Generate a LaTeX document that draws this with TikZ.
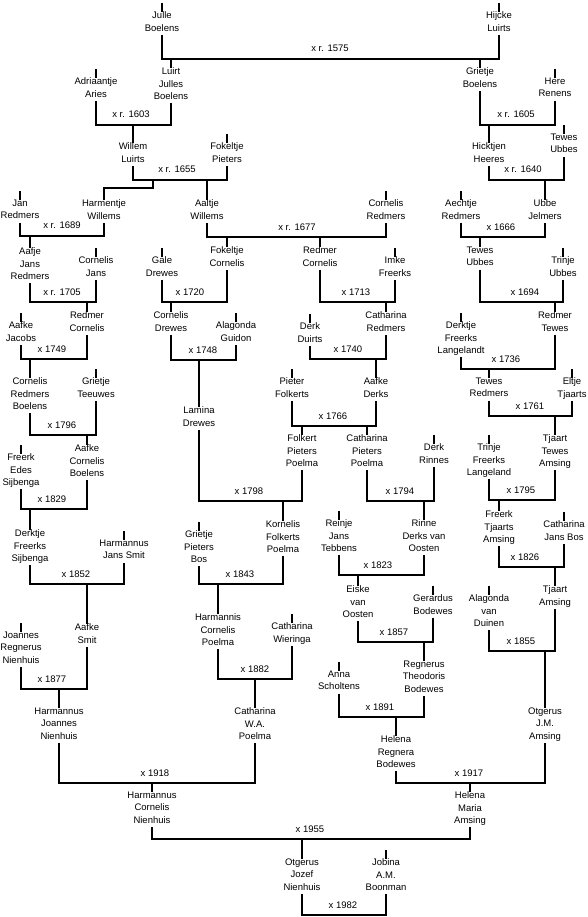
\documentclass[tikz,border=0pt]{standalone}
\usepackage{fontspec}
\setmainfont{Liberation Sans}
\begin{document}
\begin{tikzpicture}[x=1pt,y=-1pt,
  conn/.style={line width=2pt},
  person/.style={align=center,inner sep=0pt,font=\fontsize{9.5}{12.3}\selectfont,
    execute at begin node=\strut,execute at end node=\strut},
  lbl/.style={inner sep=0pt,font=\fontsize{9.5}{12.3}\selectfont,anchor=base}]
\fill[white] (0,0) rectangle (588,917);
\useasboundingbox (0,0) rectangle (588,917);
\newcommand\per[4]{\node[person,anchor=north] (#1) at (#2,#3-5.2) {#4};}
\newcommand\tk[1]{\draw[conn] (#1.north) -- ++(0,-9);}
\newcommand\wed[6]{\coordinate (#1) at (#5,#4);
  \draw[conn] (#2.south) |- (#1) -| (#3.south);
  \node[lbl] (#1l) at (#5,#4-7) {#6};}
\newcommand\kid[2]{\draw[conn] (#2.north |- #1) -- (#2.north);}
% persons
\per{julle}{162}{17}{Julle\\Boelens}
\per{hijcke}{499}{17}{Hijcke\\Luirts}
\per{luirt}{171}{73}{Luirt\\Julles\\Boelens}
\per{grietjeB}{480}{73}{Grietje\\Boelens}
\per{adriaantje}{96}{83}{Adriaantje\\Aries}
\per{here}{555}{83}{Here\\Renens}
\per{willem}{133}{148}{Willem\\Luirts}
\per{fokeltjeP}{227}{148}{Fokeltje\\Pieters}
\per{hicktjen}{489}{148}{Hicktjen\\Heeres}
\per{tewesUa}{564}{139}{Tewes\\Ubbes}
\per{jan}{20}{205}{Jan\\Redmers}
\per{harmentje}{104}{205}{Harmentje\\Willems}
\per{aaltje}{207}{205}{Aaltje\\Willems}
\per{cornelisR}{386}{205}{Cornelis\\Redmers}
\per{aechtje}{461}{205}{Aechtje\\Redmers}
\per{ubbe}{545}{205}{Ubbe\\Jelmers}
\per{aafje}{30}{253}{Aafje\\Jans\\Redmers}
\per{cornelisJ}{96}{262}{Cornelis\\Jans}
\per{gale}{162}{262}{Gale\\Drewes}
\per{fokeltjeC}{227}{252}{Fokeltje\\Cornelis}
\per{redmerCa}{320}{252}{Redmer\\Cornelis}
\per{imke}{395}{262}{Imke\\Freerks}
\per{tewesUb}{480}{252}{Tewes\\Ubbes}
\per{trinjeU}{563}{262}{Trinje\\Ubbes}
\per{aafkeJ}{21}{327}{Aafke\\Jacobs}
\per{redmerCb}{87}{317}{Redmer\\Cornelis}
\per{cornelisD}{171}{317}{Cornelis\\Drewes}
\per{alagondaG}{236}{327}{Alagonda\\Guidon}
\per{derkD}{310}{328}{Derk\\Duirts}
\per{catharinaR}{386}{317}{Catharina\\Redmers}
\per{derktjeL}{461}{327}{Derktje\\Freerks\\Langelandt}
\per{redmerT}{555}{317}{Redmer\\Tewes}
\per{cornelisRB}{30}{383}{Cornelis\\Redmers\\Boelens}
\per{grietjeT}{96}{383}{Grietje\\Teeuwes}
\per{lamina}{199}{412}{Lamina\\Drewes}
\per{pieter}{292}{383}{Pieter\\Folkerts}
\per{aafkeD}{376}{383}{Aafke\\Derks}
\per{tewesR}{489}{383}{Tewes\\Redmers}
\per{eltje}{572}{383}{Eltje\\Tjaarts}
\per{folkert}{302}{440}{Folkert\\Pieters\\Poelma}
\per{catharinaP}{367}{440}{Catharina\\Pieters\\Poelma}
\per{derkR}{434}{449}{Derk\\Rinnes}
\per{tjaartT}{555}{440}{Tjaart\\Tewes\\Amsing}
\per{trinjeF}{489}{449}{Trinje\\Freerks\\Langeland}
\per{freerkE}{21}{459}{Freerk\\Edes\\Sijbenga}
\per{aafkeC}{87}{450}{Aafke\\Cornelis\\Boelens}
\per{kornelis}{283}{526}{Kornelis\\Folkerts\\Poelma}
\per{reinje}{339}{525}{Reinje\\Jans\\Tebbens}
\per{rinne}{424}{525}{Rinne\\Derks van\\Oosten}
\per{freerkT}{499}{516}{Freerk\\Tjaarts\\Amsing}
\per{catharinaJ}{564}{526}{Catharina\\Jans Bos}
\per{derktjeS}{30}{535}{Derktje\\Freerks\\Sijbenga}
\per{harmannusJS}{124}{545}{Harmannus\\Jans Smit}
\per{grietjeP}{199}{536}{Grietje\\Pieters\\Bos}
\per{eiske}{358}{591}{Eiske\\van\\Oosten}
\per{gerardus}{433}{600}{Gerardus\\Bodewes}
\per{tjaartA}{555}{591}{Tjaart\\Amsing}
\per{alagondaD}{489}{600}{Alagonda\\van\\Duinen}
\per{aafkeS}{87}{629}{Aafke\\Smit}
\per{joannes}{21}{637}{Joannes\\Regnerus\\Nienhuis}
\per{harmannis}{218}{619}{Harmannis\\Cornelis\\Poelma}
\per{catharinaW}{292}{628}{Catharina\\Wieringa}
\per{regnerus}{424}{666}{Regnerus\\Theodoris\\Bodewes}
\per{anna}{339}{676}{Anna\\Scholtens}
\per{harmannusJN}{59}{713}{Harmannus\\Joannes\\Nienhuis}
\per{catharinaWA}{255}{713}{Catharina\\W.A.\\Poelma}
\per{helenaR}{396}{741}{Helena\\Regnera\\Bodewes}
\per{otgerusA}{545}{713}{Otgerus\\J.M.\\Amsing}
\per{harmannusCN}{152}{797}{Harmannus\\Cornelis\\Nienhuis}
\per{helenaM}{470}{797}{Helena\\Maria\\Amsing}
\per{otgerusJ}{302}{864}{Otgerus\\Jozef\\Nienhuis}
\per{jobina}{386}{864}{Jobina\\A.M.\\Boonman}
% ticks
\foreach \n in {julle,hijcke,adriaantje,here,fokeltjeP,tewesUa,jan,cornelisR,aechtje,
  cornelisJ,gale,imke,trinjeU,aafkeJ,alagondaG,derkD,derktjeL,grietjeT,pieter,eltje,
  derkR,trinjeF,freerkE,reinje,catharinaJ,harmannusJS,grietjeP,gerardus,alagondaD,
  joannes,catharinaW,anna,jobina}{\tk{\n}}
% marriages
\wed{m1575}{julle}{hijcke}{59}{330}{x r. 1575}
\kid{m1575}{luirt}\kid{m1575}{grietjeB}
\wed{m1603}{adriaantje}{luirt}{125}{131}{x r. 1603}
\kid{m1603}{willem}
\wed{m1605}{grietjeB}{here}{125}{516}{x r. 1605}
\kid{m1605}{hicktjen}
\wed{m1655}{willem}{fokeltjeP}{180}{177}{x r. 1655}
\coordinate (hk) at (153,188);
\draw[conn] (hk |- m1655) -- (hk) -| (harmentje.north);
\kid{m1655}{aaltje}
\wed{m1640}{hicktjen}{tewesUa}{180}{523}{x r. 1640}
\kid{m1640}{ubbe}
\wed{m1689}{jan}{harmentje}{236}{62}{x r. 1689}
\kid{m1689}{aafje}
\wed{m1677}{aaltje}{cornelisR}{237}{297}{x r. 1677}
\kid{m1677}{fokeltjeC}\kid{m1677}{redmerCa}
\wed{m1666}{aechtje}{ubbe}{237}{501}{x 1666}
\kid{m1666}{tewesUb}
\wed{m1705}{aafje}{cornelisJ}{302}{62}{x r. 1705}
\kid{m1705}{redmerCb}
\wed{m1720}{gale}{fokeltjeC}{302}{190}{x 1720}
\kid{m1720}{cornelisD}
\wed{m1713}{redmerCa}{imke}{302}{356}{x 1713}
\kid{m1713}{catharinaR}
\wed{m1694}{tewesUb}{trinjeU}{302}{525}{x 1694}
\kid{m1694}{redmerT}
\wed{m1749}{aafkeJ}{redmerCb}{359}{52}{x 1749}
\kid{m1749}{cornelisRB}
\wed{m1748}{cornelisD}{alagondaG}{360}{203}{x 1748}
\kid{m1748}{lamina}
\wed{m1740}{derkD}{catharinaR}{359}{348}{x 1740}
\kid{m1740}{aafkeD}
\wed{m1736}{derktjeL}{redmerT}{369}{506}{x 1736}
\kid{m1736}{tewesR}
\wed{m1796}{cornelisRB}{grietjeT}{435}{62}{x 1796}
\kid{m1796}{aafkeC}
\wed{m1766}{pieter}{aafkeD}{426}{333}{x 1766}
\kid{m1766}{folkert}\kid{m1766}{catharinaP}
\wed{m1761}{tewesR}{eltje}{416}{530}{x 1761}
\kid{m1761}{tjaartT}
\wed{m1829}{freerkE}{aafkeC}{509}{52}{x 1829}
\kid{m1829}{derktjeS}
\wed{m1798}{lamina}{folkert}{501}{249}{x 1798}
\kid{m1798}{kornelis}
\wed{m1794}{catharinaP}{derkR}{501}{400}{x 1794}
\kid{m1794}{rinne}
\wed{m1795}{trinjeF}{tjaartT}{500}{521}{x 1795}
\kid{m1795}{freerkT}
\wed{m1852}{derktjeS}{harmannusJS}{584}{76}{x 1852}
\kid{m1852}{aafkeS}
\wed{m1843}{grietjeP}{kornelis}{584}{240}{x 1843}
\kid{m1843}{harmannis}
\wed{m1823}{reinje}{rinne}{575}{378}{x 1823}
\kid{m1823}{eiske}
\wed{m1826}{freerkT}{catharinaJ}{567}{525}{x 1826}
\kid{m1826}{tjaartA}
\wed{m1857}{eiske}{gerardus}{642}{394}{x 1857}
\kid{m1857}{regnerus}
\wed{m1855}{alagondaD}{tjaartA}{651}{521}{x 1855}
\kid{m1855}{otgerusA}
\wed{m1877}{joannes}{aafkeS}{689}{52}{x 1877}
\kid{m1877}{harmannusJN}
\wed{m1882}{harmannis}{catharinaW}{679}{255}{x 1882}
\kid{m1882}{catharinaWA}
\wed{m1891}{anna}{regnerus}{717}{380}{x 1891}
\kid{m1891}{helenaR}
\wed{m1918}{harmannusJN}{catharinaWA}{783}{155}{x 1918}
\kid{m1918}{harmannusCN}
\wed{m1917}{helenaR}{otgerusA}{783}{469}{x 1917}
\kid{m1917}{helenaM}
\wed{m1955}{harmannusCN}{helenaM}{839}{310}{x 1955}
\kid{m1955}{otgerusJ}
\wed{m1982}{otgerusJ}{jobina}{915}{343}{x 1982}
\end{tikzpicture}
\end{document}
